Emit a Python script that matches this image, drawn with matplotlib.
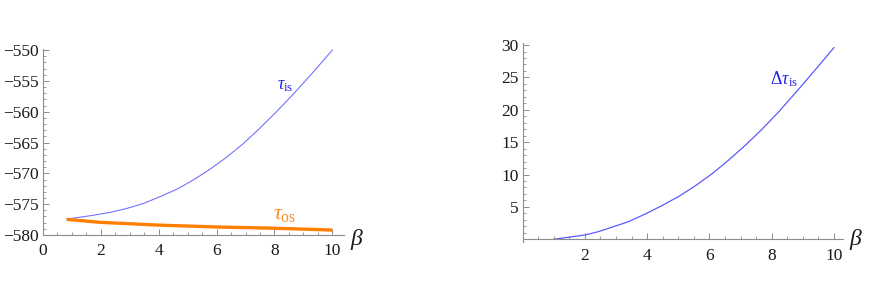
import numpy as np
import matplotlib
matplotlib.use('Agg')
import matplotlib.pyplot as plt
from matplotlib.ticker import MultipleLocator, FixedLocator

plt.rcParams['font.family'] = 'serif'
plt.rcParams['font.serif'] = ['Liberation Serif', 'DejaVu Serif']
plt.rcParams['mathtext.fontset'] = 'custom'
plt.rcParams['mathtext.rm'] = 'Liberation Serif'
plt.rcParams['mathtext.it'] = 'Liberation Serif:italic'

# values
beta_is = [0.83, 1.75, 2.32, 2.9, 3.47, 4.04, 4.62, 5.19, 5.77, 6.34, 6.92, 7.49, 8.07, 8.64, 9.22, 10.0]
tau_is = [-577.42, -576.8, -576.34, -575.7, -574.9, -573.8, -572.6, -571.1, -569.35, -567.4,
          -565.2, -562.7, -560.0, -557.2, -554.2, -550.0]

beta_os = [0.83, 2, 4, 6, 8, 10]
tau_os = [-577.47, -577.95, -578.4, -578.7, -578.9, -579.2]

beta_d = [1.0, 2.0, 2.43, 2.86, 3.4, 3.94, 4.47, 5.01, 5.55, 6.08, 6.62, 7.15, 7.69, 8.23, 8.87, 9.46, 10.0]
dtau_is = [0.0, 0.66, 1.17, 1.85, 2.72, 3.9, 5.19, 6.6, 8.27, 10.1, 12.24, 14.5, 17.0, 19.7, 23.2, 26.5, 29.6]

left_yticks = [-580, -575, -570, -565, -560, -555, -550]
left_xticks = [0, 2, 4, 6, 8, 10]
right_yticks = [5, 10, 15, 20, 25, 30]
right_xticks = [2, 4, 6, 8, 10]

axis_col = '#8c8c8c'
text_col = '#1a1a1a'


def style_axes(ax):
    for s in ['top', 'right']:
        ax.spines[s].set_visible(False)
    for s in ['left', 'bottom']:
        ax.spines[s].set_color(axis_col)
        ax.spines[s].set_linewidth(0.8)
    ax.tick_params(which='both', direction='in', color=axis_col, labelcolor=text_col,
                   labelsize=12.5)
    ax.tick_params(which='major', length=4, width=0.7)
    ax.tick_params(which='minor', length=2.2, width=0.6)
    ax.tick_params(axis='x', pad=6)
    ax.tick_params(axis='y', pad=3)
    ax.xaxis.set_minor_locator(MultipleLocator(0.5))
    ax.yaxis.set_minor_locator(MultipleLocator(1))


fig = plt.figure(figsize=(8.72, 3.0), dpi=100)

# left panel
ax1 = fig.add_axes([0.049, 0.2167, 0.3455, 0.6206])
style_axes(ax1)
ax1.plot(beta_is, tau_is, color='#7373ff', lw=0.8)
ax1.plot(beta_os, tau_os, color='#ff7f00', lw=2.4, solid_capstyle='butt')
ax1.set_xlim(0, 10.4)
ax1.set_ylim(-580, -549.8)
ax1.xaxis.set_major_locator(FixedLocator(left_xticks))
ax1.yaxis.set_major_locator(FixedLocator(left_yticks))
ax1.text(8.1, -555.8, r'$\tau_{\mathrm{is}}$', color='#2424e6', fontsize=13, ha='left', va='center')
ax1.text(7.95, -576.6, r'$\tau_{\mathrm{os}}$', color='#ff8c1a', fontsize=16, ha='left', va='center')
fig.text(350 / 872, 0.2, r'$\beta$', fontsize=17, color=text_col, ha='left', va='center')

# right panel
ax2 = fig.add_axes([0.5994, 0.1917, 0.3676, 0.6646])
style_axes(ax2)
ax2.spines['bottom'].set_position(('data', 0))
ax2.plot(beta_d, dtau_is, color='#5a5aff', lw=0.9)
ax2.set_xlim(0, 10.3)
ax2.set_ylim(-0.5, 30.3)
ax2.xaxis.set_major_locator(FixedLocator(right_xticks))
ax2.yaxis.set_major_locator(FixedLocator(right_yticks))
ax2.text(7.96, 24.7, r'$\Delta\tau_{\mathrm{is}}$', color='#2424e6', fontsize=13, ha='left', va='center')
fig.text(849 / 872, 0.2, r'$\beta$', fontsize=17, color=text_col, ha='left', va='center')

fig.savefig('out.png', dpi=100)
